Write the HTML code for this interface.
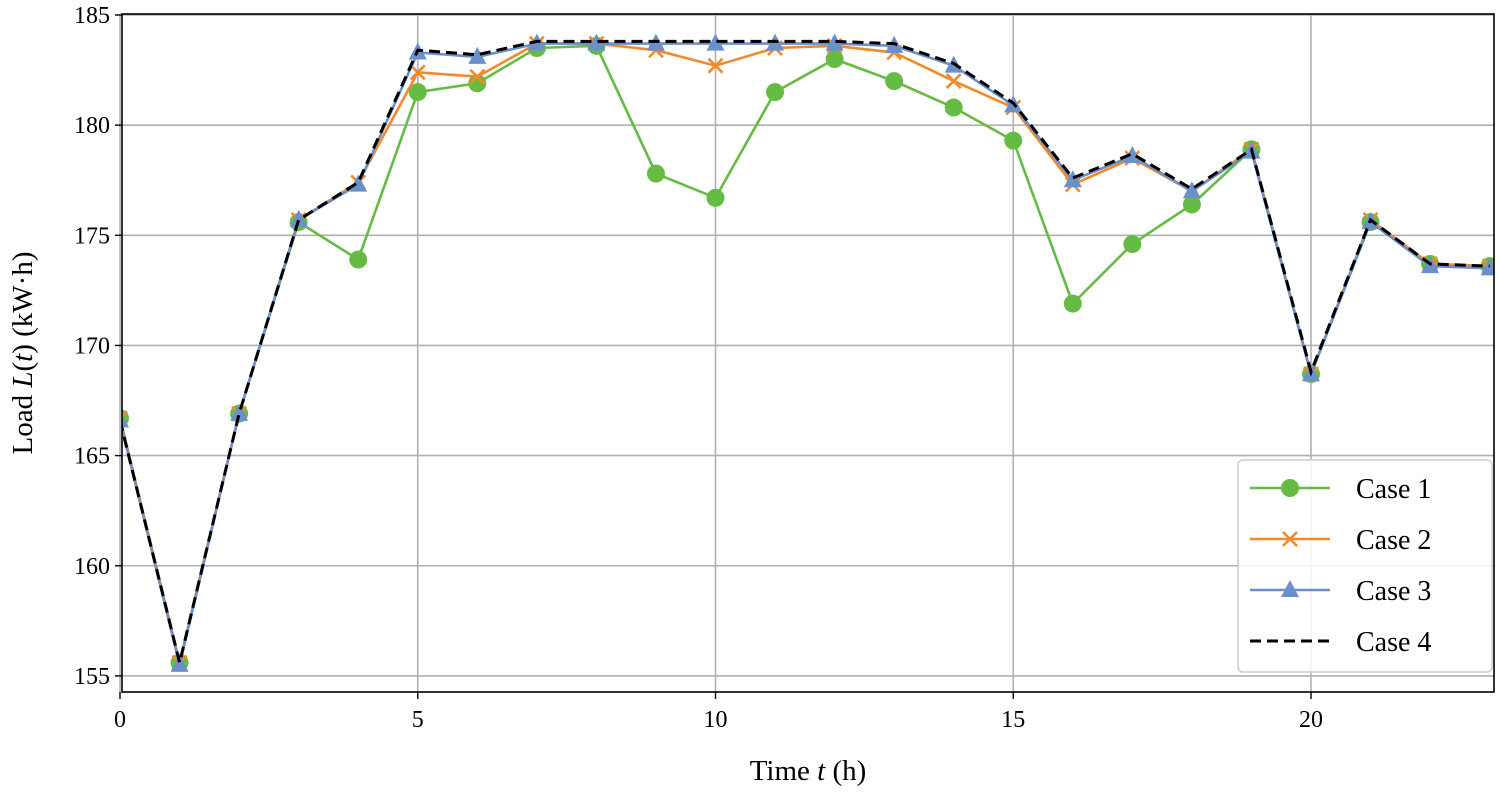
<!DOCTYPE html>
<html><head><meta charset="utf-8"><style>
html,body{margin:0;padding:0;background:#fff;}
svg{display:block;font-family:"Liberation Serif","DejaVu Serif",serif;}
</style></head><body>
<svg id="chart" width="1500" height="795" viewBox="0 0 1500 795"></svg>
<script>
const hours=[0,1,2,3,4,5,6,7,8,9,10,11,12,13,14,15,16,17,18,19,20,21,22,23];
const case1=[166.7,155.6,166.9,175.6,173.9,181.5,181.9,183.5,183.6,177.8,176.7,181.5,183.0,182.0,180.8,179.3,171.9,174.6,176.4,178.9,168.7,175.6,173.7,173.6];
const case2=[166.7,155.6,166.9,175.7,177.4,182.4,182.2,183.7,183.7,183.4,182.7,183.5,183.6,183.3,182.0,180.8,177.3,178.5,177.0,178.9,168.7,175.7,173.7,173.6];
const case3=[166.6,155.5,166.9,175.7,177.3,183.3,183.1,183.7,183.7,183.7,183.7,183.7,183.7,183.6,182.7,180.9,177.5,178.6,177.0,178.8,168.7,175.6,173.6,173.5];
const case4=[166.6,155.6,166.9,175.7,177.4,183.4,183.2,183.8,183.8,183.8,183.8,183.8,183.8,183.7,182.8,181.0,177.6,178.7,177.1,178.9,168.8,175.7,173.7,173.6];
const xTicks=[0,5,10,15,20];
const yTicks=[155,160,165,170,175,180,185];

const svg=document.getElementById('chart');
const NS='http://www.w3.org/2000/svg';
const L=122,R=1494,T=14,B=692;
const X=t=>120+59.55*t;
const Y=v=>15+(185-v)*22.03;
function mk(tag,attrs,parent){const e=document.createElementNS(NS,tag);for(const k in attrs)e.setAttribute(k,attrs[k]);(parent||svg).appendChild(e);return e;}

const clip=mk('clipPath',{id:'pc'});mk('rect',{x:L,y:T,width:R-L,height:B-T},clip);
const grid=mk('g',{});


xTicks.forEach(t=>{mk('line',{x1:X(t),x2:X(t),y1:T,y2:B,stroke:'#b0b0b0','stroke-width':1.6},grid);});
yTicks.forEach(v=>{mk('line',{x1:L,x2:R,y1:Y(v),y2:Y(v),stroke:'#b0b0b0','stroke-width':1.6},grid);});

const plot=mk('g',{'clip-path':'url(#pc)'});
function path(vals){return vals.map((v,i)=>(i?'L':'M')+X(hours[i]).toFixed(1)+','+Y(v).toFixed(1)).join(' ');}
function series(vals,color,marker,name,dash){
  const g=mk('g',{},plot);
  
  
  mk('path',{d:path(vals),fill:'none',stroke:color,'stroke-width':dash?3:2.6,'stroke-dasharray':dash||'none'},g);
  vals.forEach((v,i)=>drawMarker(g,marker,X(hours[i]),Y(v),color));
}
function drawMarker(g,m,x,y,c){
  if(m==='o')mk('circle',{cx:x,cy:y,r:9,fill:c},g);
  else if(m==='x'){mk('path',{d:`M${x-7},${y-7}L${x+7},${y+7}M${x-7},${y+7}L${x+7},${y-7}`,stroke:c,'stroke-width':2.6},g);}
  else if(m==='^')mk('path',{d:`M${x},${y-10}L${x+9},${y+7}L${x-9},${y+7}Z`,fill:c},g);
}
series(case1,'#66bb44','o','case1-series');
series(case2,'#f28a2a','x','case2-series');
series(case3,'#6b8fc9','^','case3-series');
series(case4,'#000','', 'case4-series','11,6');

mk('rect',{x:L,y:T,width:R-L,height:B-T,fill:'none',stroke:'#000','stroke-width':1.6});
xTicks.forEach(t=>{
  mk('line',{x1:X(t),x2:X(t),y1:B,y2:B+7,stroke:'#000','stroke-width':1.4});
  const tx=mk('text',{x:X(t),y:B+35,'font-size':24,'text-anchor':'middle'});tx.textContent=t;
  
  
});
yTicks.forEach(v=>{
  mk('line',{x1:L-7,x2:L,y1:Y(v),y2:Y(v),stroke:'#000','stroke-width':1.4});
  const tx=mk('text',{x:L-12,y:Y(v)+8,'font-size':24,'text-anchor':'end'});tx.textContent=v;
  
  
});
const xt=mk('text',{x:808,y:780,'font-size':29,'text-anchor':'middle'});
xt.innerHTML='Time <tspan font-style="italic">t</tspan> (h)';


const yt=mk('text',{x:0,y:0,'font-size':29,'text-anchor':'middle',transform:'translate(32,353) rotate(-90)'});
yt.innerHTML='Load <tspan font-style="italic">L</tspan>(<tspan font-style="italic">t</tspan>) (kW·h)';



const lg=mk('g',{});


mk('rect',{x:1238,y:460,width:254,height:212,rx:5,fill:'#fff','fill-opacity':0.85,stroke:'#ccc','stroke-width':1.5},lg);
const items=[['Case 1','#66bb44','o',''],['Case 2','#f28a2a','x',''],['Case 3','#6b8fc9','^',''],['Case 4','#000','','11,6']];
items.forEach((it,i)=>{
  const y=488+i*51;
  const e=mk('g',{},lg);
  
  
  mk('line',{x1:1250,x2:1330,y1:y,y2:y,stroke:it[1],'stroke-width':it[3]?3:2.6,'stroke-dasharray':it[3]||'none'},e);
  drawMarker(e,it[2],1290,y,it[1]);
  const tx=mk('text',{x:1356,y:y+10,'font-size':28},e);tx.textContent=it[0];
});
</script>
</body></html>
